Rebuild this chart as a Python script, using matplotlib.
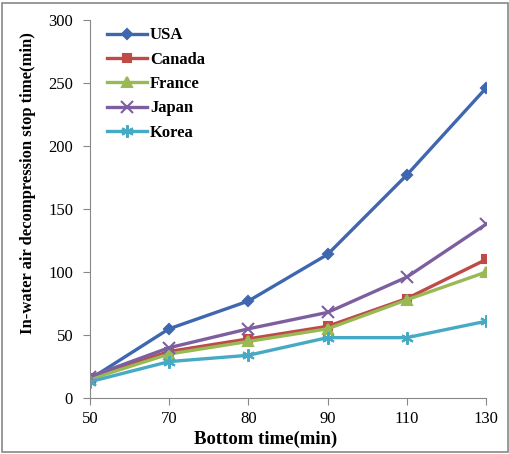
import matplotlib.pyplot as plt
from matplotlib.patches import Rectangle

plt.rcParams['font.family'] = ['Liberation Serif', 'DejaVu Serif']

bottom_time = ["50", "70", "80", "90", "110", "130"]
usa = [15, 55, 77, 114, 177, 246]
canada = [16, 37, 47, 57, 79, 110]
france = [15, 35, 45, 55, 78, 100]
japan = [17, 40, 55, 68, 96, 138]
korea = [13, 29, 34, 48, 48, 61]

series = [
    ("USA", usa, "#3f67b0", "D", 5),
    ("Canada", canada, "#be4b48", "s", 6),
    ("France", france, "#98b954", "^", 7),
    ("Japan", japan, "#7d5fa0", "x", 8),
    ("Korea", korea, "#46aac5", (6, 2, 0), 9),
]

fig = plt.figure(figsize=(5.1, 4.54), dpi=100)
ax = fig.add_axes([0.176, 0.123, 0.777, 0.833])

xs = range(len(bottom_time))
for name, vals, col, mk, ms in series:
    ax.plot(xs, vals, color=col, lw=2.4, marker=mk, markersize=ms,
            markeredgewidth=1.5, markeredgecolor=col, label=name)

ax.set_xlim(0, len(bottom_time) - 1)
ax.set_ylim(0, 300)
ax.set_yticks(range(0, 301, 50))
ax.set_xticks(list(xs))
ax.set_xticklabels(bottom_time)
ax.tick_params(labelsize=12, length=5, color="#888888", direction="out")
ax.tick_params(axis="y", pad=7)
ax.tick_params(axis="x", pad=4)
for s in ["top", "right"]:
    ax.spines[s].set_visible(False)
for s in ["left", "bottom"]:
    ax.spines[s].set_color("#888888")

ax.set_xlabel("Bottom time(min)", fontsize=13.5, fontweight="bold")
ax.set_ylabel("In-water air decompression stop time(min)", fontsize=12,
              fontweight="bold")
ax.xaxis.set_label_coords(0.444, -0.085)
ax.yaxis.set_label_coords(-0.136, 0.57)

leg = ax.legend(loc="upper left", frameon=False, prop={"weight": "bold", "size": 12},
                handlelength=2.4, handletextpad=0.2, labelspacing=0.5,
                bbox_to_anchor=(0.005, 1.02))

fig.patches.append(Rectangle((0.004, 0.004), 0.992, 0.99, transform=fig.transFigure,
                             fill=False, edgecolor="#888888", lw=1.2))

fig.savefig("out.png", dpi=100)
